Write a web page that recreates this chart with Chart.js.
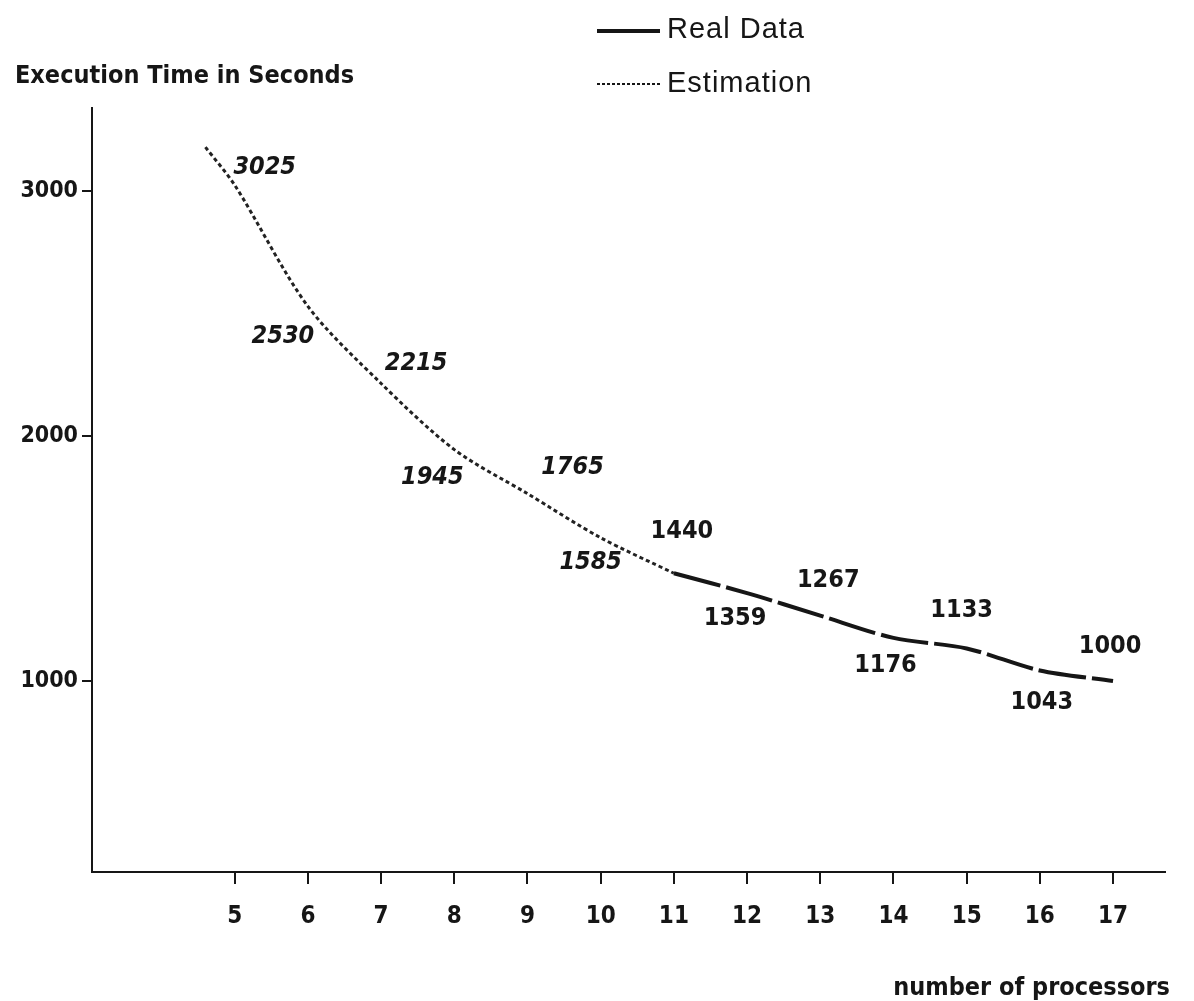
<!DOCTYPE html>
<html lang="en">
<head>
<meta charset="UTF-8">
<title>Execution Time vs Number of Processors</title>
<script src="https://cdn.jsdelivr.net/npm/chart.js"></script>
<style>
    html, body { margin: 0; padding: 0; background: #fff; }
    #wrap { width: 1194px; height: 1001px; position: relative; }
</style>
</head>
<body>
<div id="wrap"><canvas id="grafico"></canvas></div>
<script>
// processors (x) and execution time in seconds (y)
const estProcs  = [4.6, 5, 6, 7, 8, 9, 10, 11];
const estTimes  = [3180, 3025, 2530, 2215, 1945, 1765, 1585, 1440];
const realProcs = [11, 12, 13, 14, 15, 16, 17];
const realTimes = [1440, 1359, 1267, 1176, 1133, 1043, 1000];

// value labels written next to the curve
const labelProcs  = [5, 6, 7, 8, 9, 10, 11, 12, 13, 14, 15, 16, 17];
const labelValues = [3025, 2530, 2215, 1945, 1765, 1585, 1440, 1359, 1267, 1176, 1133, 1043, 1000];

const xTicks = [5, 6, 7, 8, 9, 10, 11, 12, 13, 14, 15, 16, 17];
const yTicks = [1000, 2000, 3000];

// where each value label sits relative to its point (px), italic for estimated ones
const labelOffsets = [[30,-18],[-25,30],[35,-20],[-22,28],[45,-26],[-10,25],[8,-42],[-12,25],[8,-35],[-8,28],[-5,-38],[2,32],[-3,-35]];
const labelItalic  = [true, true, true, true, true, true, false, false, false, false, false, false, false];

const INK = '#161616';
const BOLD = "'DejaVu Sans Condensed', 'Liberation Sans Narrow', 'Roboto', sans-serif";

const textPlugin = {
    id: 'textos',
    afterDatasetsDraw(chart) {
        const ctx = chart.ctx;
        const xs = chart.scales.x, ys = chart.scales.y;
        ctx.save();
        ctx.fillStyle = INK;
        ctx.textAlign = 'center';
        ctx.textBaseline = 'middle';
        labelProcs.forEach((p, i) => {
            const px = xs.getPixelForValue(p) + labelOffsets[i][0];
            const py = ys.getPixelForValue(labelValues[i]) + labelOffsets[i][1];
            ctx.font = (labelItalic[i] ? 'italic ' : '') + 'bold 25px ' + BOLD;
            ctx.fillText(String(labelValues[i]), px, py);
        });

        // axis titles
        const area = chart.chartArea;
        ctx.font = 'bold 25px ' + BOLD;
        ctx.textAlign = 'left';
        ctx.fillText('Execution Time in Seconds', 15, 76);
        ctx.textAlign = 'right';
        ctx.fillText('number of processors', area.right + 5, 988);

        // legend
        const lx = 597, lw = 63;
        ctx.strokeStyle = INK;
        ctx.lineWidth = 4;
        ctx.setLineDash([]);
        ctx.beginPath(); ctx.moveTo(lx, 31); ctx.lineTo(lx + lw, 31); ctx.stroke();
        ctx.lineWidth = 2;
        ctx.setLineDash([3, 2]);
        ctx.beginPath(); ctx.moveTo(lx, 84); ctx.lineTo(lx + lw, 84); ctx.stroke();
        ctx.setLineDash([]);
        ctx.font = "29px 'Liberation Sans', Arial, sans-serif";
        ctx.textAlign = 'left';
        ctx.letterSpacing = '1px';
        ctx.fillText('Real Data', 667, 30);
        ctx.fillText('Estimation', 667, 84);
        ctx.restore();
    }
};

const ctx = document.getElementById('grafico').getContext('2d');
const grafico = new Chart(ctx, {
    type: 'line',
    data: {
        datasets: [
            {
                label: 'Estimation',
                data: estProcs.map((p, i) => ({ x: p, y: estTimes[i] })),
                borderColor: '#222',
                borderWidth: 3,
                borderDash: [4, 3],
                pointRadius: 0,
                tension: 0.3
            },
            {
                label: 'Real Data',
                data: realProcs.map((p, i) => ({ x: p, y: realTimes[i] })),
                borderColor: INK,
                borderWidth: 4,
                borderDash: [48, 6],
                pointRadius: 0,
                tension: 0.3
            }
        ]
    },
    options: {
        responsive: true,
        maintainAspectRatio: false,
        animation: false,
        layout: { padding: { top: 108, left: 12, right: 29, bottom: 0 } },
        plugins: {
            legend: { display: false },
            tooltip: { enabled: false }
        },
        scales: {
            x: {
                type: 'linear',
                min: 3.05,
                max: 17.71,
                afterBuildTicks: s => { s.ticks = xTicks.map(v => ({ value: v })); },
                afterFit: s => { s.height = 129; },
                border: { display: true, color: INK, width: 2 },
                grid: { drawOnChartArea: false, drawTicks: true, tickLength: 12, color: INK, lineWidth: 2 },
                ticks: { color: INK, padding: 18, font: { family: BOLD, size: 24, weight: 'bold' },
                         callback: v => String(v) }
            },
            y: {
                type: 'linear',
                min: 220,
                max: 3340,
                afterBuildTicks: s => { s.ticks = yTicks.map(v => ({ value: v })); },
                afterFit: s => { s.width = 80; },
                border: { display: true, color: INK, width: 2 },
                grid: { drawOnChartArea: false, drawTicks: true, tickLength: 10, color: INK, lineWidth: 2 },
                ticks: { color: INK, padding: 4, font: { family: BOLD, size: 23, weight: 'bold' },
                         callback: v => String(v) }
            }
        }
    },
    plugins: [textPlugin]
});
</script>
</body>
</html>
